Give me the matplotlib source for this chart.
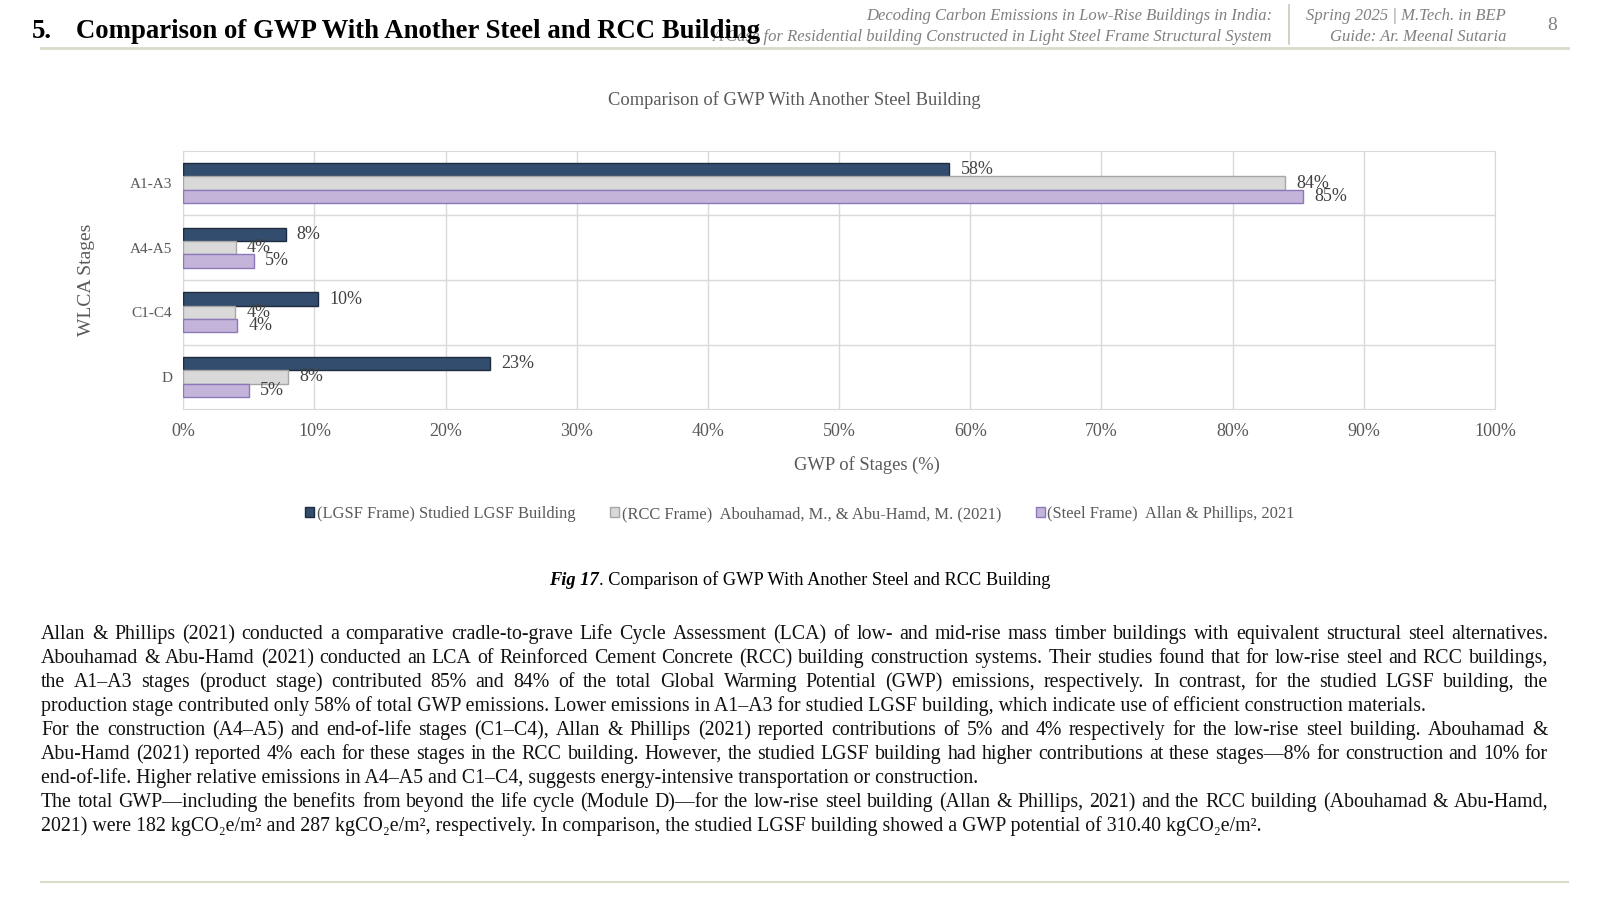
import matplotlib.pyplot as plt
import numpy as np
from matplotlib.patches import Patch

plt.rcParams['font.family'] = ['Liberation Serif', 'DejaVu Serif']

# data (percent of total GWP)
stages = ['A1-A3', 'A4-A5', 'C1-C4', 'D']
lgsf = [58.4, 7.8, 10.3, 23.4]
rcc = [84.0, 4.0, 3.95, 8.0]
steel = [85.4, 5.4, 4.1, 5.0]
series_names = ['(LGSF Frame) Studied LGSF Building',
                '(RCC Frame)  Abouhamad, M., & Abu-Hamd, M. (2021)',
                '(Steel Frame)  Allan & Phillips, 2021']
x_ticks = np.arange(0, 101, 10)

paragraph = [
    ("Allan & Phillips (2021) conducted a comparative cradle-to-grave Life Cycle Assessment (LCA) of low- and mid-rise mass timber buildings with equivalent structural steel alternatives.", True),
    ("Abouhamad & Abu-Hamd (2021) conducted an LCA of Reinforced Cement Concrete (RCC) building construction systems. Their studies found that for low-rise steel and RCC buildings,", True),
    ("the A1–A3 stages (product stage) contributed 85% and 84% of the total Global Warming Potential (GWP) emissions, respectively. In contrast, for the studied LGSF building, the", True),
    ("production stage contributed only 58% of total GWP emissions. Lower emissions in A1–A3 for studied LGSF building, which indicate use of efficient construction materials.", False),
    ("For the construction (A4–A5) and end-of-life stages (C1–C4), Allan & Phillips (2021) reported contributions of 5% and 4% respectively for the low-rise steel building. Abouhamad &", True),
    ("Abu-Hamd (2021) reported 4% each for these stages in the RCC building. However, the studied LGSF building had higher contributions at these stages—8% for construction and 10% for", True),
    ("end-of-life. Higher relative emissions in A4–A5 and C1–C4, suggests energy-intensive transportation or construction.", False),
    ("The total GWP—including the benefits from beyond the life cycle (Module D)—for the low-rise steel building (Allan & Phillips, 2021) and the RCC building (Abouhamad & Abu-Hamd,", True),
    ("2021) were 182 kgCO₂e/m² and 287 kgCO₂e/m², respectively. In comparison, the studied LGSF building showed a GWP potential of 310.40 kgCO₂e/m².", False),
]

W, H = 1600, 900
fig = plt.figure(figsize=(16, 9), dpi=100)
fig.patch.set_facecolor('white')


def fx(px):
    return px / W


def fy(py):
    return 1 - py / H


# ---- slide header ----
rule = '#d8dbc8'
hgray = '#808080'
fig.text(fx(1272), fy(16), 'Decoding Carbon Emissions in Low-Rise Buildings in India:',
         ha='right', va='center', style='italic', color=hgray, fontsize=12)
fig.text(fx(1272), fy(37), 'A Case for Residential building Constructed in Light Steel Frame Structural System',
         ha='right', va='center', style='italic', color=hgray, fontsize=12)
fig.text(fx(32), fy(31), '5.', ha='left', va='center', fontsize=19.3, fontweight='bold', color='black')
fig.text(fx(76), fy(31), 'Comparison of GWP With Another Steel and RCC Building', ha='left', va='center',
         fontsize=19.3, fontweight='bold', color='black', zorder=5)
fig.text(fx(1506), fy(16), 'Spring 2025 | M.Tech. in BEP', ha='right', va='center',
         style='italic', color=hgray, fontsize=12)
fig.text(fx(1506), fy(37), 'Guide: Ar. Meenal Sutaria', ha='right', va='center',
         style='italic', color=hgray, fontsize=12)
fig.text(fx(1552), fy(26), '8', ha='center', va='center', color=hgray, fontsize=14)
fig.add_artist(plt.Line2D([fx(1289), fx(1289)], [fy(5), fy(44)], color='#c8cbb5', lw=1.2))
fig.add_artist(plt.Line2D([fx(41), fx(1568)], [fy(48), fy(48)], color=rule, lw=2))
fig.add_artist(plt.Line2D([fx(41), fx(1568)], [fy(882), fy(882)], color=rule, lw=1.5))

# ---- chart ----
ax = fig.add_axes([fx(183.3), fy(409.3), (1495 - 183.3) / W, (409.3 - 150.7) / H])
colors = ['#324d6e', '#d9d9d9', '#c4b4da']
edges = ['#1e2c3e', '#a6a6a6', '#8c78b8']
bh = 0.206
y = np.arange(len(stages))
tgray = '#595959'
for i, (vals, c, e) in enumerate(zip([lgsf, rcc, steel], colors, edges)):
    bars = ax.barh(y + (i - 1) * bh, vals, height=bh, color=c, edgecolor=e, linewidth=1, zorder=3)
    ax.bar_label(bars, labels=[f'{v:.0f}%' for v in vals], padding=8, fontsize=13,
                 color='#404040', zorder=4)

ax.set_xlim(0, 100)
ax.set_ylim(len(stages) - 0.5, -0.5)
ax.set_xticks(x_ticks)
ax.set_xticklabels([f'{t}%' for t in x_ticks], fontsize=13, color=tgray)
ax.set_yticks(y)
ax.set_yticklabels(stages, fontsize=11, color=tgray)
ax.set_yticks(y[:-1] + 0.5, minor=True)
ax.tick_params(axis='both', which='both', length=0)
ax.tick_params(axis='x', pad=10)
ax.tick_params(axis='y', pad=8)
ax.grid(axis='x', color='#d9d9d9', lw=1, zorder=0)
ax.grid(axis='y', which='minor', color='#d9d9d9', lw=1, zorder=0)
for s in ax.spines.values():
    s.set_color('#d9d9d9')
ax.set_xlabel('GWP of Stages (%)', fontsize=13.3, color=tgray)
ax.xaxis.set_label_coords((866.5 - 183.3) / 1311.7, -(456 - 409.3) / 258.6)
ax.set_ylabel('WLCA Stages', fontsize=14, color=tgray)
ax.yaxis.set_label_coords(-(183.3 - 95) / 1311.7, 0.5)
fig.text(fx(794), fy(100), 'Comparison of GWP With Another Steel Building', ha='center', va='center',
         fontsize=13.3, color=tgray)

handles = [Patch(facecolor=c, edgecolor=e, lw=1) for c, e in zip(colors, edges)]
fig.legend(handles, series_names, loc='center', bbox_to_anchor=(fx(800), fy(514)), ncol=3,
           frameon=False, fontsize=11.9, labelcolor=tgray, handlelength=0.55, handleheight=0.55,
           handletextpad=0.15, columnspacing=2.1)

# ---- caption ----
fig.canvas.draw()
rend = fig.canvas.get_renderer()
cap1 = fig.text(0, fy(585), 'Fig 17', ha='left', va='baseline', fontsize=13.2,
                style='italic', fontweight='bold', color='black')
cap2 = fig.text(0, fy(585), '. Comparison of GWP With Another Steel and RCC Building', ha='left',
                va='baseline', fontsize=13.2, color='black')
w1 = cap1.get_window_extent(rend).width
w2 = cap2.get_window_extent(rend).width
x0 = 800 - (w1 + w2) / 2
cap1.set_x(fx(x0))
cap2.set_x(fx(x0 + w1))

# ---- justified paragraph ----
fs = 14.35
left, right = 41, 1548
for k, (line, just) in enumerate(paragraph):
    base = 639 + k * 24.0
    if not just:
        fig.text(fx(left), fy(base), line, ha='left', va='baseline', fontsize=fs, color='#111111')
        continue
    words = line.split(' ')
    texts = [fig.text(0, fy(base), w, ha='left', va='baseline', fontsize=fs, color='#111111')
             for w in words]
    widths = [t.get_window_extent(rend).width for t in texts]
    gap = (right - left - sum(widths)) / (len(words) - 1)
    xpos = left
    for t, wd in zip(texts, widths):
        t.set_x(fx(xpos))
        xpos += wd + gap

fig.savefig('out.png', dpi=100)
